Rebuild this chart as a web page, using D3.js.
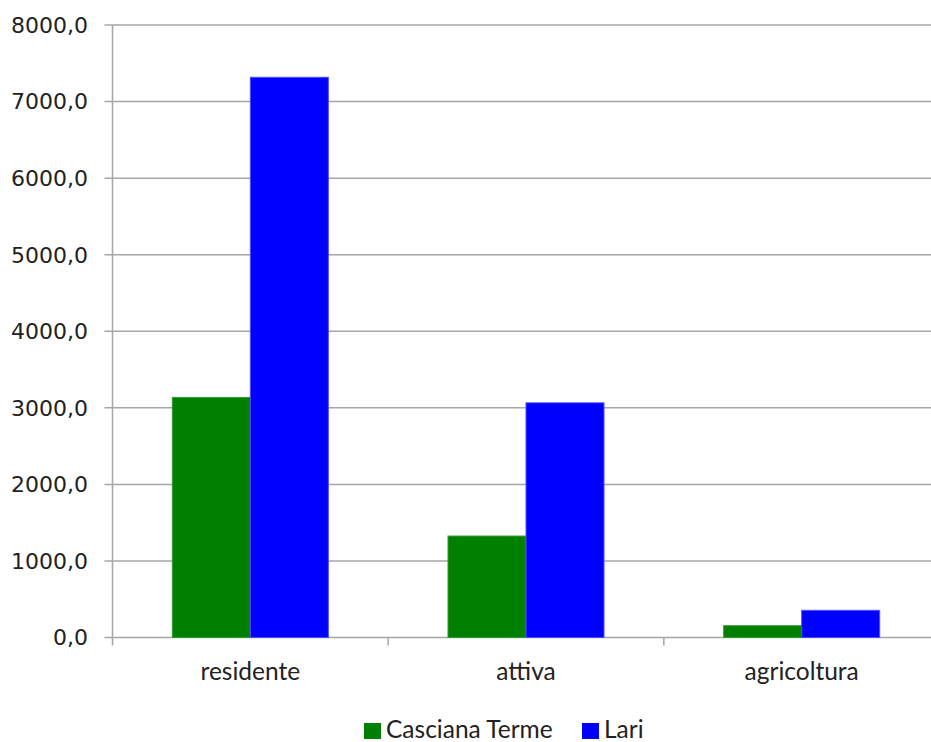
<!DOCTYPE html>
<html><head><meta charset="utf-8">
<script src="https://cdn.jsdelivr.net/npm/d3@7"></script>
<style>body{margin:0;background:#fff}</style>
</head><body>
<svg id="c" width="931" height="742"></svg>
<script>
const categories = ["residente", "attiva", "agricoltura"];
const seriesNames = ["Casciana Terme", "Lari"];
const casciana = [3136, 1325, 154];
const lari = [7317, 3065, 355];
const yTicks = [0, 1000, 2000, 3000, 4000, 5000, 6000, 7000, 8000];
const colors = ["#008000", "#0000ff"];
const strokes = ["#339933", "#4d4dff"];

const svg = d3.select("#c");
const L = 112.5, R = 939.5, T = 25, B = 637.5;
const x = d3.scaleBand().domain(categories).range([L, R]).paddingInner(0).paddingOuter(0);
const x1 = d3.scaleBand().domain(seriesNames).range([0, x.bandwidth()]).paddingInner(0).paddingOuter(0.767);
const y = d3.scaleLinear().domain([0, 8000]).range([B, T]);

// gridlines
svg.append("g").selectAll("line").data(yTicks).join("line")
  .attr("x1", L - 8).attr("x2", R).attr("y1", d => y(d)).attr("y2", d => y(d))
  .attr("stroke", "#a6a6a6").attr("stroke-width", 1.5);

// y axis line
svg.append("line").attr("x1", L).attr("x2", L).attr("y1", T).attr("y2", B + 8)
  .attr("stroke", "#a6a6a6").attr("stroke-width", 1.5);

// category ticks
svg.append("g").selectAll("line").data(categories.slice(1)).join("line")
  .attr("x1", d => x(d)).attr("x2", d => x(d)).attr("y1", B).attr("y2", B + 8)
  .attr("stroke", "#a6a6a6").attr("stroke-width", 1.5);

// bars
const data = [casciana, lari];
categories.forEach((c, i) => {
  seriesNames.forEach((s, j) => {
    const v = data[j][i];
    svg.append("rect")
      .attr("x", x(c) + x1(s)).attr("width", x1.bandwidth())
      .attr("y", y(v)).attr("height", B - y(v))
      .attr("fill", colors[j]).attr("stroke", strokes[j]).attr("stroke-width", 1);
  });
});

// y labels
const fmt = d => d3.format(".1f")(d).replace(".", ",");
svg.append("g").selectAll("text").data(yTicks).join("text")
  .attr("x", 88).attr("y", d => y(d)).attr("dy", "0.36em")
  .attr("text-anchor", "end")
  .attr("font-family", "DejaVu Sans").attr("font-size", 22).attr("fill", "#222")
  .text(fmt);

// category labels
svg.append("g").selectAll("text").data(categories).join("text")
  .attr("x", d => x(d) + x.bandwidth() / 2).attr("y", 680)
  .attr("text-anchor", "middle")
  .attr("font-family", "Lato").attr("font-size", 24.5).attr("fill", "#222")
  .text(d => d);

// legend
const leg = svg.append("g");
const legX = [364, 582];
seriesNames.forEach((s, j) => {
  leg.append("rect").attr("x", legX[j]).attr("y", 723).attr("width", 17).attr("height", 16)
    .attr("fill", colors[j]);
  leg.append("text").attr("x", legX[j] + 22).attr("y", 738)
    .attr("font-family", "Lato").attr("font-size", 24.5).attr("fill", "#222")
    .text(s);
});
</script>
</body></html>
